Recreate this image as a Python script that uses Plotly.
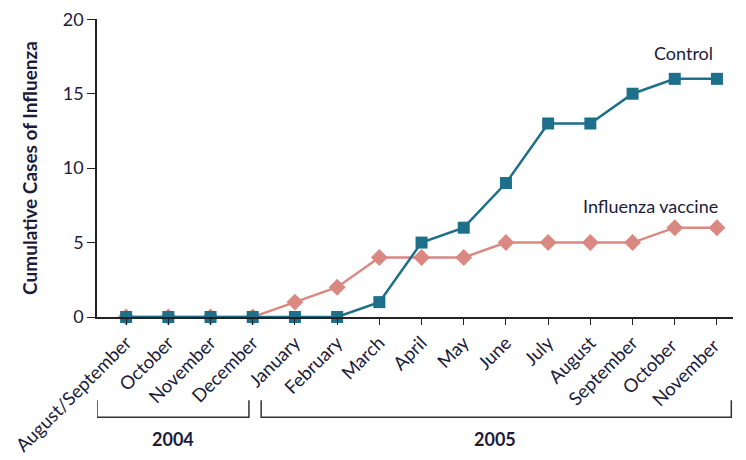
import plotly.graph_objects as go

months = ["August/September", "October", "November", "December", "January", "February",
          "March", "April", "May", "June", "July", "August", "September", "October ", "November "]
control = [0, 0, 0, 0, 0, 0, 1, 5, 6, 9, 13, 13, 15, 16, 16]
vaccine = [0, 0, 0, 0, 1, 2, 4, 4, 4, 5, 5, 5, 5, 6, 6]
y_ticks = [0, 5, 10, 15, 20]
years = ["2004", "2005"]

TEAL = "#1e6f8a"
SALMON = "#d98981"
TXT = "#1c1c3a"
FONT = "Lato"

fig = go.Figure()
fig.add_trace(go.Scatter(x=months, y=vaccine, mode="lines+markers", name="Influenza vaccine",
                         line=dict(color=SALMON, width=2.5),
                         marker=dict(symbol="diamond", size=13, color=SALMON),
                         cliponaxis=False))
fig.add_trace(go.Scatter(x=months, y=control, mode="lines+markers", name="Control",
                         line=dict(color=TEAL, width=2.5),
                         marker=dict(symbol="square", size=12, color=TEAL),
                         cliponaxis=False))

fig.update_layout(
    width=746, height=460, showlegend=False,
    plot_bgcolor="white", paper_bgcolor="white",
    margin=dict(l=89, r=21, t=11, b=151),
    font=dict(family=FONT, color=TXT, size=17),
    xaxis=dict(type="category", range=[-0.69, 14.38], showgrid=False, zeroline=False,
               automargin=False,
               showline=True, linecolor="#222", linewidth=1.5,
               ticks="outside", ticklen=6, tickcolor="#222", tickwidth=1.2,
               tickangle=-45, tickfont=dict(size=18.5, color=TXT, family=FONT)),
    yaxis=dict(range=[0, 20.02], tickvals=y_ticks, showgrid=False, zeroline=False,
               automargin=False, ticklabeloverflow="allow",
               showline=True, linecolor="#222", linewidth=1.5,
               ticks="outside", ticklen=8, tickcolor="#222", tickwidth=1.2,
               tickfont=dict(size=18, color=TXT, family=FONT),
               title=dict(text="<b>Cumulative Cases of Influenza</b>", standoff=20,
                          font=dict(size=19, color=TXT, family=FONT))),
)

fig.add_annotation(x=13.2, y=16, xref="x", yref="y", text="Control", showarrow=False,
                   yshift=26, font=dict(size=18, color=TXT, family=FONT))
fig.add_annotation(x=12.42, y=6, xref="x", yref="y", text="Influenza vaccine", showarrow=False,
                   yshift=22, font=dict(size=18, color=TXT, family=FONT))

# year brackets
br_y, br_top = -0.336, -0.279
spans = [(-0.69, 2.91), (3.2, 14.34)]
label_x = [1.11, 8.74]
for (x0, x1), yr, lx in zip(spans, years, label_x):
    fig.add_shape(type="path", xref="x", yref="paper",
                  path=f"M {x0},{br_top} L {x0},{br_y} L {x1},{br_y} L {x1},{br_top}",
                  line=dict(color="#333", width=1.5))
    fig.add_annotation(x=lx, y=-0.41, xref="x", yref="paper", yanchor="middle",
                       text=f"<b>{yr}</b>",
                       showarrow=False, font=dict(size=18, color=TXT, family=FONT))

fig.write_html("out.html")
